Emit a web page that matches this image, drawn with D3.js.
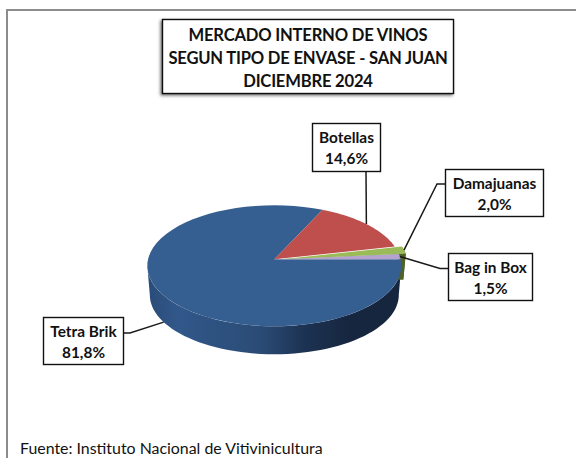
<!DOCTYPE html>
<html><head><meta charset="utf-8"><script src="https://cdn.jsdelivr.net/npm/d3@7/dist/d3.min.js"></script>
<style>html,body{margin:0;padding:0;background:#fff}svg{display:block}text{font-family:Lato,Carlito,"Open Sans",sans-serif;fill:#111}</style></head><body>
<svg id="c" width="576" height="458"></svg>
<script>
const categories = ["Tetra Brik","Botellas","Damajuanas","Bag in Box"];
const values = [81.8,14.6,2.0,1.5];
const titleLines = ["MERCADO INTERNO DE VINOS","SEGUN TIPO DE ENVASE - SAN JUAN","DICIEMBRE 2024"];
const source = "Fuente: Instituto Nacional de Vitivinicultura";
const topColors = ["#365f91","#be4f4c","#9bbb59","#b5a3cf"];
const labelBoxes = [[43,317,80,47],[312,123,68,48],[445,169,98,47],[448,253,84,47]];
const explode = [0,0,7,0];

const svg=d3.select("#c");
const cx=274.3,cy=259.3,A=126.3,B=59.8,k=0.107,depth=26,shrink=0.98,wallDepth=29.3;
const P=(t,low=false,ox=0,d=wallDepth)=>{const u=Math.sin(t),v=Math.cos(t),w=1+k*v;
  let dx=A*u/w,dy=-B*v/w; if(low){dx*=shrink;dy=dy*shrink+d;}
  return [cx+dx+ox,cy+dy];};
const line=d3.line();
const rad=d=>d*Math.PI/180;
const arcs=d3.pie().sort(null).startAngle(Math.PI/2).endAngle(Math.PI*2.5)(values);
const samples=(a,b,n=60)=>d3.range(n+1).map(i=>a+(b-a)*i/n);

const defs=svg.append("defs");
const g=defs.append("linearGradient").attr("id","blueWall").attr("gradientUnits","userSpaceOnUse")
  .attr("x1",147).attr("x2",402).attr("y1",0).attr("y2",0);
[[0,"#2a4b78"],[0.12,"#31588a"],[0.45,"#2a4b75"],[0.62,"#1c3252"],[0.8,"#16263f"],[1,"#16263e"]]
  .forEach(s=>g.append("stop").attr("offset",s[0]).attr("stop-color",s[1]));
const f=defs.append("filter").attr("id","sh").attr("x","-10%").attr("y","-20%").attr("width","120%").attr("height","140%");
f.append("feDropShadow").attr("dx",-1.5).attr("dy",1.5).attr("stdDeviation",1.5).attr("flood-color","#000").attr("flood-opacity",0.55);

svg.append("path").attr("d","M7 458V10H576").attr("fill","none").attr("stroke","#8c8c8c").attr("stroke-width",2);

// blue wall
const rim=samples(rad(96),rad(264)).map(t=>P(t)), low=samples(rad(264),rad(96)).map(t=>P(t,true));
svg.append("path").attr("d",line(rim.concat(low))+"Z").attr("fill","url(#blueWall)");

// exploded slice wall sits behind the main top face
arcs.forEach((a,i)=>{const ox=explode[i]; if(!ox) return;
  const s=samples(a.startAngle,a.endAngle);
  const wall=s.map(t=>P(t,false,ox)).concat(s.slice().reverse().map(t=>P(t,true,ox,depth)));
  svg.append("path").attr("d",line(wall)+"Z").attr("fill","#55692b");
  const e=a.endAngle;
  const cut=[P(e,false,ox),P(e,true,ox,depth),P(e,true,0,depth),P(e,false,0)];
  svg.append("path").attr("d",line(cut)+"Z").attr("fill","#4f6228");
});

// top faces
[0,1,3,2].forEach(i=>{const a=arcs[i],ox=explode[i];
  const pts=[[cx+ox,cy]].concat(samples(a.startAngle,a.endAngle).map(t=>P(t,false,ox)));
  svg.append("path").attr("d",line(pts)+"Z").attr("fill",topColors[i]);
});

// leaders
const mid=a=>(a.startAngle+a.endAngle)/2;
const ends=[P(mid(arcs[0]),true),P(mid(arcs[1])),P(mid(arcs[2]),false,explode[2]),P(mid(arcs[3]))];
const elbows=[[130,333],[366,171],[437,184],[440,268.5]];
const starts=[[123,333],[366,171],[445,184],[448,268.5]];
categories.forEach((c,i)=>{
  svg.append("path").attr("d",line([starts[i],elbows[i],ends[i]])).attr("fill","none").attr("stroke","#1a1a1a").attr("stroke-width",1.5);
});

// label boxes
const fmt=v=>v.toFixed(1).replace(".",",")+"%";
categories.forEach((c,i)=>{const [x,y,w,h]=labelBoxes[i];
  svg.append("rect").attr("x",x+.5).attr("y",y+.5).attr("width",w).attr("height",h).attr("fill","#fff").attr("stroke","#111").attr("stroke-width",1.4);
  svg.append("text").attr("x",x+w/2+.5).attr("y",y+20).attr("text-anchor","middle").attr("font-weight",700).attr("font-size",15.4).text(c);
  svg.append("text").attr("x",x+w/2+.5).attr("y",y+41).attr("text-anchor","middle").attr("font-weight",700).attr("font-size",15.4).text(fmt(values[i]));
});

// title
svg.append("rect").attr("x",162.5).attr("y",19.5).attr("width",291).attr("height",74).attr("fill","#fff").attr("stroke","#111").attr("stroke-width",1.4).attr("filter","url(#sh)");
titleLines.forEach((t,i)=>svg.append("text").attr("x",308).attr("y",40.5+i*23.2).attr("text-anchor","middle").attr("font-weight",700).attr("font-size",16.6).attr("letter-spacing",-0.2).text(t));

svg.append("text").attr("x",20).attr("y",454).attr("font-size",15.9).attr("fill","#222").text(source);
</script></body></html>
